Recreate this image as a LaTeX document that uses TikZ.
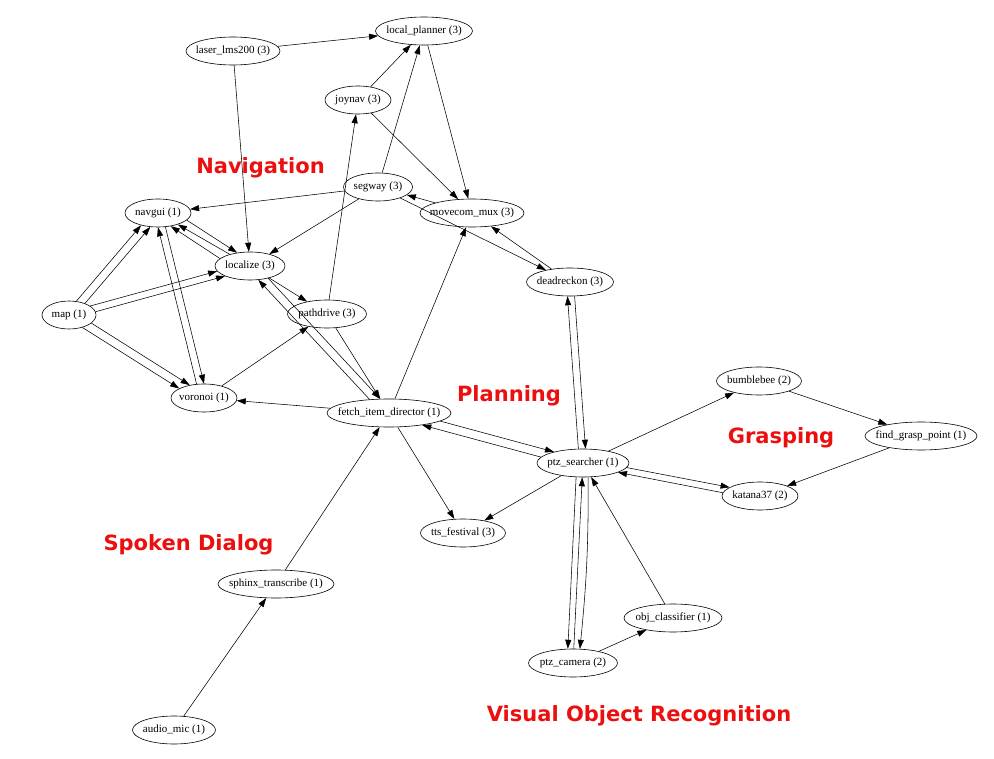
\documentclass[tikz,border=0pt]{standalone}
\usepackage{fontspec}
\setmainfont{Liberation Serif}
\newfontfamily\labfont{DejaVu Sans}
\usetikzlibrary{shapes.geometric,arrows.meta}
\definecolor{lab}{RGB}{235,15,15}
\tikzset{
  nd/.style={ellipse, draw=black, line width=0.6pt, inner sep=0pt, minimum height=28pt, font=\fontsize{11}{13}\selectfont},
  ed/.style={-{Triangle[length=9pt,width=6pt]}, line width=0.55pt, draw=black},
  grp/.style={text=lab, font=\labfont\bfseries\fontsize{21}{25}\selectfont, anchor=base, inner sep=0pt},
}
\newcommand\tx[1]{\makebox[0pt]{#1}}
\begin{document}
\begin{tikzpicture}[x=1pt,y=-1pt]
\fill[white] (0,0) rectangle (994,759);
\useasboundingbox (0,0) rectangle (994,759);

% nodes
\node[nd, minimum width=97pt] (lp) at (424,31) {\tx{local\_planner (3)}};
\node[nd, minimum width=94pt] (laser) at (233,51) {\tx{laser\_lms200 (3)}};
\node[nd, minimum width=66pt] (joynav) at (358,100) {\tx{joynav (3)}};
\node[nd, minimum width=69pt] (segway) at (378,187) {\tx{segway (3)}};
\node[nd, minimum width=66pt] (navgui) at (158,213) {\tx{navgui (1)}};
\node[nd, minimum width=104pt] (movecom) at (472,213) {\tx{movecom\_mux (3)}};
\node[nd, minimum width=70pt] (localize) at (250,266) {\tx{localize (3)}};
\node[nd, minimum width=87pt] (deadreckon) at (570,282) {\tx{deadreckon (3)}};
\node[nd, minimum width=54pt] (map) at (69,315) {\tx{map (1)}};
\node[nd, minimum width=79pt] (pathdrive) at (327,314) {\tx{pathdrive (3)}};
\node[nd, minimum width=66pt] (voronoi) at (204,398) {\tx{voronoi (1)}};
\node[nd, minimum width=124pt] (fetch) at (389,413) {\tx{fetch\_item\_director (1)}};
\node[nd, minimum width=92pt] (ptzs) at (583,463) {\tx{ptz\_searcher (1)}};
\node[nd, minimum width=85pt] (bumble) at (759,381) {\tx{bumblebee (2)}};
\node[nd, minimum width=112pt] (fgp) at (921,436) {\tx{find\_grasp\_point (1)}};
\node[nd, minimum width=76pt] (katana) at (760,496) {\tx{katana37 (2)}};
\node[nd, minimum width=85pt] (tts) at (463,533) {\tx{tts\_festival (3)}};
\node[nd, minimum width=116pt] (sphinx) at (276,584) {\tx{sphinx\_transcribe (1)}};
\node[nd, minimum width=98pt] (obj) at (673,618) {\tx{obj\_classifier (1)}};
\node[nd, minimum width=89pt] (ptzc) at (573,663) {\tx{ptz\_camera (2)}};
\node[nd, minimum width=83pt] (audio) at (174,730) {\tx{audio\_mic (1)}};

% group labels
\node[grp] (lnav) at (260.5,174) {Navigation};
\node[grp] (lplan) at (509,402) {Planning};
\node[grp] (lgrasp) at (781,443) {Grasping};
\node[grp] (lspoken) at (188.5,550) {Spoken Dialog};
\node[grp] (lvis) at (639,721.5) {Visual Object Recognition};

% edges: top
\draw[ed] (laser) -- (lp);
\draw[ed] (laser) -- (localize);
\draw[ed] (joynav) -- (lp);
\draw[ed] (segway) -- (lp);
\draw[ed] (lp) -- (movecom);
\draw[ed] (joynav) -- (movecom);
\draw[ed] (pathdrive) -- (joynav);
\draw[ed] (segway) -- (navgui);
\draw[ed] (segway) -- (localize);
\draw[ed] (movecom) -- (segway);
\draw[ed] (segway) -- (deadreckon);
\draw[ed] (deadreckon) -- (movecom);
\draw[ed] (fetch) -- (movecom);
% navgui / localize
\draw[ed] (navgui.346) -- (localize.134);
\draw[ed] (localize.150) -- (navgui.330);
\draw[ed] (localize.166) -- (navgui.314);
% map
\draw[ed] (map.62) -- (navgui.216);
\draw[ed] (map.36) -- (navgui.241);
\draw[ed] (map.23) -- (localize.189);
\draw[ed] (map.7) -- (localize.202);
\draw[ed] (map.340) -- (voronoi.138);
\draw[ed] (map.317) -- (voronoi.159);
% voronoi / navgui
\draw[ed] (voronoi.118) -- (navgui.270);
\draw[ed] (navgui.298) -- (voronoi.90);
% middle
\draw[ed] (localize) -- (pathdrive);
\draw[ed] (localize.326) -- (fetch.122);
\draw[ed] (fetch.145) -- (localize.301);
\draw[ed] (pathdrive) -- (fetch);
\draw[ed] (voronoi) -- (pathdrive);
\draw[ed] (fetch) -- (voronoi);
\draw[ed] (sphinx) -- (fetch);
\draw[ed] (audio) -- (sphinx);
\draw[ed] (fetch) -- (tts);
\draw[ed] (ptzs) -- (tts);
\draw[ed] (fetch.351) -- (ptzs.159);
\draw[ed] (ptzs.172) -- (fetch.340);
\draw[ed] (ptzs.108) -- (deadreckon.260);
\draw[ed] (deadreckon.288) -- (ptzs.80);
% grasping
\draw[ed] (ptzs) -- (bumble);
\draw[ed] (bumble) -- (fgp);
\draw[ed] (fgp) -- (katana);
\draw[ed] (ptzs.354) -- (katana.164);
\draw[ed] (katana.175) -- (ptzs.345);
% vision
\draw[ed] (ptzs.244) -- (ptzc.110);
\draw[ed] (ptzc.87) -- (ptzs.267);
\draw[ed] (ptzs.290) to[bend left=3] (ptzc.64);
\draw[ed] (obj) -- (ptzs);
\draw[ed] (ptzc) -- (obj);
\end{tikzpicture}
\end{document}
